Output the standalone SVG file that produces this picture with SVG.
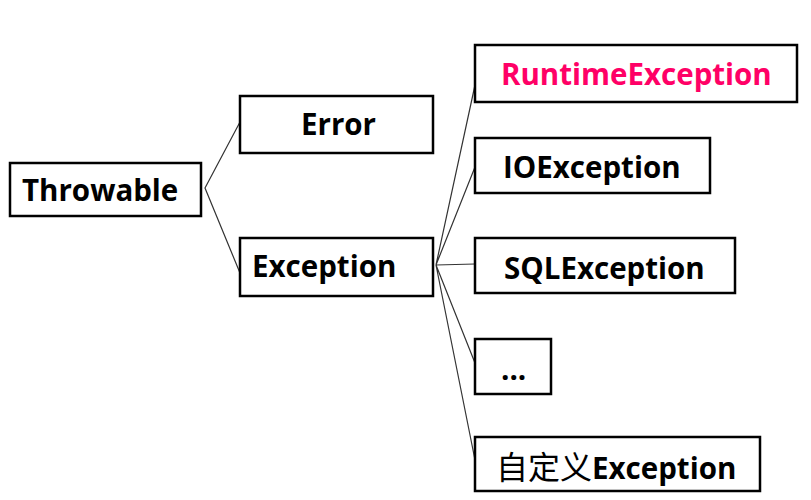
<svg xmlns="http://www.w3.org/2000/svg" width="811" height="500" viewBox="0 0 811 500">
<style>
.box{fill:#fff;stroke:#000;stroke-width:2.5}
.t{font-family:"Open Sans","Noto Sans CJK SC",sans-serif;font-weight:bold;font-size:29.5px;fill:#000}
.cjk{font-family:"Noto Sans CJK SC",sans-serif;font-weight:normal;font-size:32px}
.pink{fill:#FF0066}
.c{stroke:#333;stroke-width:1.2;fill:none}
</style>
<rect width="811" height="500" fill="#fff"/>
<g id="connectors">
<path class="c" d="M240,122 L205,188 L240,273"/>
<path class="c" d="M475,85 L436,265 M475,167 L436,265 M475,264 L436,265 M475,363 L436,265 M475,460 L436,265"/>
</g>
<g id="throwable"><rect class="box" x="10" y="163" width="191" height="53"/><text class="t" x="22" y="201">Throwable</text></g>
<g id="error"><rect class="box" x="240" y="96" width="193" height="57"/><text class="t" x="301" y="135">Error</text></g>
<g id="exception"><rect class="box" x="240" y="238" width="193" height="58"/><text class="t" x="252" y="277">Exception</text></g>
<g id="runtime"><rect class="box" x="475" y="45" width="322" height="57"/><text class="t pink" x="501" y="85">RuntimeException</text></g>
<g id="io"><rect class="box" x="475" y="138" width="235" height="55"/><text class="t" x="503" y="178">IOException</text></g>
<g id="sql"><rect class="box" x="475" y="238" width="260" height="55"/><text class="t" x="504" y="279">SQLException</text></g>
<g id="etc"><rect class="box" x="475" y="339" width="76" height="55"/><text class="t" x="501" y="380">...</text></g>
<g id="custom"><rect class="box" x="475" y="437" width="285" height="54"/><text class="t" x="496" y="479"><tspan class="cjk">自定义</tspan>Exception</text></g>
</svg>
